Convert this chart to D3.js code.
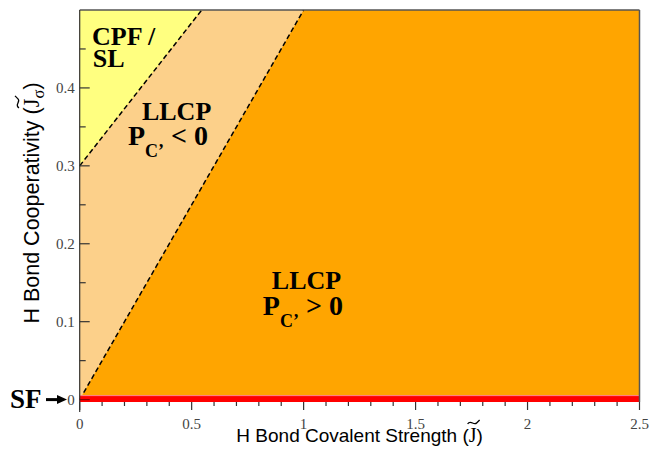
<!DOCTYPE html>
<html>
<head>
<meta charset="utf-8">
<script src="https://cdn.jsdelivr.net/npm/d3@7"></script>
<style>
  html, body { margin: 0; padding: 0; background: #fff; }
  svg { display: block; }
</style>
</head>
<body>
<svg id="chart" width="650" height="455"></svg>
<script>
// axis ticks
const xTicks = [0, 0.5, 1, 1.5, 2, 2.5];
const xTickLabels = ["0", "0.5", "1", "1.5", "2", "2.5"];
const xMinor = [0.1, 0.2, 0.3, 0.4, 0.6, 0.7, 0.8, 0.9, 1.1, 1.2, 1.3, 1.4, 1.6, 1.7, 1.8, 1.9, 2.1, 2.2, 2.3, 2.4];
const yTicks = [0, 0.1, 0.2, 0.3, 0.4];
const yTickLabels = ["0", "0.1", "0.2", "0.3", "0.4"];
const yMinor = [0.05, 0.15, 0.25, 0.35, 0.45];

// phase boundaries (J, Jsigma)
const cpfLineJ = [0, 0.545];
const cpfLineJs = [0.3, 0.5];
const pcLineJ = [0, 1.0];
const pcLineJs = [0, 0.5];
// SF line
const sfLineJ = [0, 2.5];
const sfLineJs = [0, 0];

const serif = "'Liberation Serif', 'Times New Roman', serif";
const sans = "'Liberation Sans', Arial, sans-serif";

const svg = d3.select("#chart");

const x = d3.scaleLinear().domain([0, 2.5]).range([79.7, 639.5]);
const y = d3.scaleLinear().domain([0, 0.5]).range([399.6, 10]);

const pt = (a, b) => [x(a), y(b)];

// regions
svg.append("rect")
    .attr("x", x(0)).attr("y", y(0.5))
    .attr("width", x(2.5) - x(0)).attr("height", y(0) - y(0.5))
    .attr("fill", "#ffa500");

svg.append("polygon")
    .attr("points", [pt(pcLineJ[0], pcLineJs[0]), pt(pcLineJ[1], pcLineJs[1]),
                     pt(cpfLineJ[1], cpfLineJs[1]), pt(cpfLineJ[0], cpfLineJs[0])].join(" "))
    .attr("fill", "#fcd08a");

svg.append("polygon")
    .attr("points", [pt(cpfLineJ[0], cpfLineJs[0]), pt(cpfLineJ[1], cpfLineJs[1]),
                     pt(0, 0.5)].join(" "))
    .attr("fill", "#ffff80");

// dashed boundaries
const line = d3.line().x(d => x(d[0])).y(d => y(d[1]));
[[cpfLineJ, cpfLineJs], [pcLineJ, pcLineJs]].forEach(([a, b]) => {
    svg.append("path")
        .attr("d", line(a.map((v, i) => [v, b[i]])))
        .attr("fill", "none")
        .attr("stroke", "#000")
        .attr("stroke-width", 1.5)
        .attr("stroke-dasharray", "5,3");
});

// SF red band
svg.append("path")
    .attr("d", line(sfLineJ.map((v, i) => [v, sfLineJs[i]])))
    .attr("transform", "translate(0,-1)")
    .attr("stroke", "#ff0000")
    .attr("stroke-width", 7);
svg.append("path")
    .attr("d", line(sfLineJ.map((v, i) => [v, sfLineJs[i]])))
    .attr("transform", "translate(0,-4)")
    .attr("stroke", "#ff9090")
    .attr("stroke-width", 1);

// frame
svg.append("line")
    .attr("x1", x(0)).attr("x2", x(2.5)).attr("y1", y(0.5)).attr("y2", y(0.5))
    .attr("stroke", "#555").attr("stroke-width", 1.5);
svg.append("line")
    .attr("x1", x(2.5)).attr("x2", x(2.5)).attr("y1", y(0.5)).attr("y2", 402)
    .attr("stroke", "#555").attr("stroke-width", 1.5);
svg.append("line")
    .attr("x1", x(0)).attr("x2", x(0)).attr("y1", y(0.5)).attr("y2", 412)
    .attr("stroke", "#333").attr("stroke-width", 1.2);

// y ticks (inward)
svg.selectAll(".ytick").data(yTicks).enter().append("line")
    .attr("x1", x(0)).attr("x2", x(0) + 10)
    .attr("y1", d => y(d)).attr("y2", d => y(d))
    .attr("stroke", d => d === 0 ? "#800" : "#333").attr("stroke-width", 1.2);
svg.selectAll(".yminor").data(yMinor).enter().append("line")
    .attr("x1", x(0)).attr("x2", x(0) + 6)
    .attr("y1", d => y(d)).attr("y2", d => y(d))
    .attr("stroke", "#333").attr("stroke-width", 1.2);
svg.selectAll(".ylab").data(yTicks).enter().append("text")
    .attr("x", x(0) - 5).attr("y", d => y(d) + 5)
    .attr("text-anchor", "end")
    .style("font-family", serif).style("font-size", "15px").style("fill", "#444")
    .text((d, i) => yTickLabels[i]);

// x ticks (hanging below SF band)
svg.selectAll(".xtick").data(xTicks).enter().append("line")
    .attr("x1", d => x(d)).attr("x2", d => x(d))
    .attr("y1", 402).attr("y2", 410)
    .attr("stroke", "#333").attr("stroke-width", 1.2);
svg.selectAll(".xminor").data(xMinor).enter().append("line")
    .attr("x1", d => x(d)).attr("x2", d => x(d))
    .attr("y1", 402).attr("y2", 406)
    .attr("stroke", "#333").attr("stroke-width", 1.2);
svg.selectAll(".xlab").data(xTicks).enter().append("text")
    .attr("x", d => x(d)).attr("y", 429)
    .attr("text-anchor", "middle")
    .style("font-family", serif).style("font-size", "15px").style("fill", "#444")
    .text((d, i) => xTickLabels[i]);

// axis titles with tilde J
function tildeLabel(g, pre, sub, size) {
    const t = g.append("text")
        .attr("text-anchor", "middle")
        .style("font-family", sans).style("font-size", size + "px").style("fill", "#000");
    t.append("tspan").text(pre);
    t.append("tspan").style("font-family", serif).style("font-size", (size + 1) + "px").text("J");
    if (sub) {
        t.append("tspan").style("font-family", serif).style("font-size", (size - 5) + "px")
            .attr("dy", 5).text(sub);
        t.append("tspan").attr("dy", -5).text(")");
    } else {
        t.append("tspan").text(")");
    }
    const ext = t.node().getExtentOfChar(pre.length);
    const cx = ext.x + ext.width / 2 + 1;
    const ty = ext.y - 1;
    g.append("path")
        .attr("d", `M${cx - 6},${ty + 1} C${cx - 3},${ty - 4} ${cx},${ty + 3} ${cx + 3},${ty}` +
                   ` S${cx + 6},${ty - 3} ${cx + 6},${ty - 3}`)
        .attr("fill", "none").attr("stroke", "#000").attr("stroke-width", 1.3);
}

tildeLabel(svg.append("g").attr("transform", `translate(${(x(0) + x(2.5)) / 2},442)`),
    "H Bond Covalent Strength (", null, 19);
tildeLabel(svg.append("g").attr("transform", "translate(39,203) rotate(-90)"),
    "H Bond Cooperativity (", "\u03c3", 21.5);

// region annotations
function bold(xv, yv, txt) {
    return svg.append("text")
        .attr("x", x(xv)).attr("y", y(yv))
        .style("font-family", serif).style("font-weight", "bold")
        .style("font-size", "26px").style("fill", "#000")
        .text(txt);
}
function pcLabel(xv, yv, rel) {
    const t = svg.append("text")
        .attr("x", x(xv)).attr("y", y(yv))
        .style("font-family", serif).style("font-weight", "bold")
        .style("font-size", "28px").style("fill", "#000");
    t.append("tspan").text("P");
    t.append("tspan").attr("dy", 12).style("font-size", "18px").text("C\u2019");
    t.append("tspan").attr("dy", -12).text(" " + rel + " 0");
}

bold(0.055, 0.455, "CPF /");
bold(0.058, 0.427, "SL");
bold(0.278, 0.3586, "LLCP");
pcLabel(0.2156, 0.3265, "<");
bold(0.858, 0.142, "LLCP");
pcLabel(0.818, 0.1086, ">");

// SF arrow
svg.append("text")
    .attr("x", 10).attr("y", y(0) + 8)
    .style("font-family", serif).style("font-weight", "bold")
    .style("font-size", "27px").style("fill", "#000")
    .text("SF");
svg.append("line")
    .attr("x1", 46).attr("x2", 59).attr("y1", y(0)).attr("y2", y(0))
    .attr("stroke", "#000").attr("stroke-width", 3);
svg.append("polygon")
    .attr("points", `57,${y(0) - 4.5} 67,${y(0)} 57,${y(0) + 4.5}`)
    .attr("fill", "#000");
</script>
</body>
</html>
